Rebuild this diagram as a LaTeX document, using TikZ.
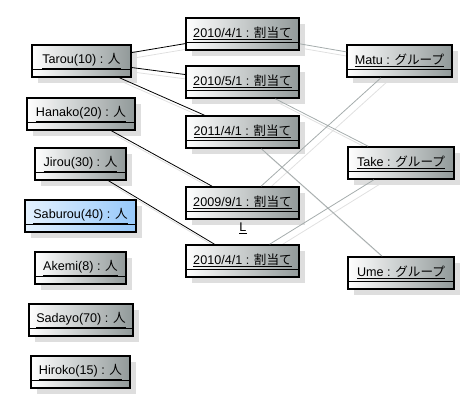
\documentclass[tikz,border=0pt]{standalone}
\usepackage{fontspec}
\setmainfont{Liberation Sans}
\newfontfamily\jpfont{Noto Sans CJK JP}
\usetikzlibrary{shadows,backgrounds}

\definecolor{objgray}{RGB}{145,153,153}
\definecolor{selpale}{RGB}{228,242,255}
\definecolor{selblue}{RGB}{150,200,250}
\definecolor{linkgray}{RGB}{165,172,172}

\newcommand{\objname}[1]{\raisebox{4.5pt}{\underline{#1}}}

\tikzset{
obj/.style={rectangle, draw=black, line width=1.6pt, inner sep=0pt,
  minimum height=32pt, left color=white, right color=objgray,
  font=\fontsize{12.6}{14}\selectfont,
  drop shadow={shadow xshift=6pt, shadow yshift=-6pt, fill=black!13, opacity=1},
  path picture={\draw[line width=0.8pt]
    ([yshift=8pt]path picture bounding box.south west) --
    ([yshift=8pt]path picture bounding box.south east);}},
selobj/.style={obj, left color=selpale, right color=selblue},
plink/.style={draw=black, line width=0.8pt},
glink/.style={draw=linkgray, line width=0.8pt},
lshadow/.style={draw=black!12, line width=0.8pt}
}

\begin{document}
\begin{tikzpicture}[x=1pt,y=-1pt]
\useasboundingbox (0,0) rectangle (474,409);
% persons
\node[obj, minimum width=99pt] (tarou) at (81.5,61) {\objname{Tarou(10) : {\jpfont 人}}};
\node[obj, minimum width=108pt] (hanako) at (81,114) {\objname{Hanako(20) : {\jpfont 人}}};
\node[obj, minimum width=91pt] (jirou) at (80.5,164) {\objname{Jirou(30) : {\jpfont 人}}};
\node[selobj, minimum width=111pt] (saburou) at (80.5,216) {\objname{Saburou(40) : {\jpfont 人}}};
\node[obj, minimum width=91pt] (akemi) at (80.5,268) {\objname{Akemi(8) : {\jpfont 人}}};
\node[obj, minimum width=104pt] (sadayo) at (81,320) {\objname{Sadayo(70) : {\jpfont 人}}};
\node[obj, minimum width=99pt] (hiroko) at (80.5,372) {\objname{Hiroko(15) : {\jpfont 人}}};
% assignments
\node[obj, minimum width=113pt] (asg1) at (242.5,34) {\objname{2010/4/1 : {\jpfont 割当て}}};
\node[obj, minimum width=113pt] (asg2) at (242.5,82) {\objname{2010/5/1 : {\jpfont 割当て}}};
\node[obj, minimum width=113pt] (asg3) at (242.5,132) {\objname{2011/4/1 : {\jpfont 割当て}}};
\node[obj, minimum width=113pt] (asg4) at (242.5,203) {\objname{2009/9/1 : {\jpfont 割当て}}};
\node[obj, minimum width=113pt] (asg5) at (242.5,261) {\objname{2010/4/1 : {\jpfont 割当て}}};
\node[font=\fontsize{12.6}{14}\selectfont] (mark) at (243,228) {\underline{L}};
% groups
\node[obj, minimum width=105pt] (matu) at (399.5,61) {\objname{Matu : {\jpfont グループ}}};
\node[obj, minimum width=106pt] (take) at (401,163) {\objname{Take : {\jpfont グループ}}};
\node[obj, minimum width=106pt] (ume) at (401,273) {\objname{Ume : {\jpfont グループ}}};

\begin{scope}[on background layer]
\foreach \a/\b in {tarou/asg1,tarou/asg2,tarou/asg3,hanako/asg4,jirou/asg5,
  asg1/matu,asg2/take,asg3/ume,asg4/matu,asg5/take}
  \draw[lshadow] ([shift={(5,5)}]\a.center) -- ([shift={(5,5)}]\b.center);
\end{scope}

\draw[plink] (tarou) -- (asg1);
\draw[plink] (tarou) -- (asg2);
\draw[plink] (tarou) -- (asg3);
\draw[plink] (hanako) -- (asg4);
\draw[plink] (jirou) -- (asg5);
%\draw[glink] (asg1) -- (take);
\draw[glink] (asg1) -- (matu);
\draw[glink] (asg2) -- (take);
\draw[glink] (asg3) -- (ume);
\draw[glink] (asg4) -- (matu);
\draw[glink] (asg5) -- (take);
\end{tikzpicture}
\end{document}
